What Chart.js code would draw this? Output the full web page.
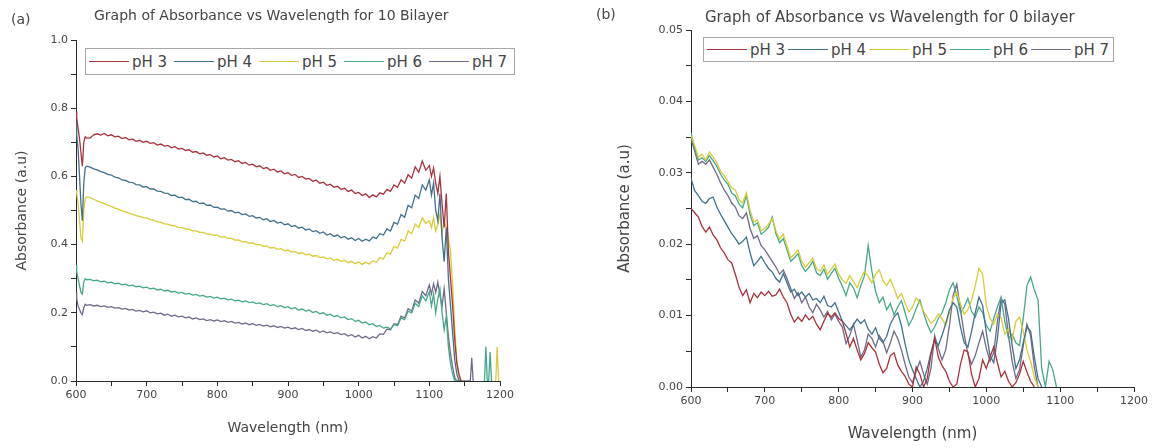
<!DOCTYPE html>
<html>
<head>
<meta charset="utf-8">
<script src="https://cdn.jsdelivr.net/npm/chart.js@4.4.0/dist/chart.umd.min.js"></script>
<style>
  body { margin: 0; background: #fff; font-family: "DejaVu Sans", sans-serif; color: #444; }
  #wrap { position: relative; width: 1160px; height: 448px; overflow: hidden; }
  canvas { position: absolute; top: 0; }
  .txt { position: absolute; white-space: nowrap; z-index: 2; color: #444; }
  .legend { position: absolute; z-index: 2; box-sizing: border-box; border: 1px solid #a8a8a8; background: #fff;
            display: flex; align-items: center; padding-left: 3px; }
  .legend .item { display: flex; align-items: center; color: #444; }
  .legend .sw { display: inline-block; width: 40px; height: 0; border-top: 1px solid; margin-right: 3px; }
</style>
</head>
<body>
<div id="wrap">
  <canvas id="chartA" width="580" height="448" style="left:0"></canvas>
  <canvas id="chartB" width="580" height="448" style="left:580px"></canvas>
  <div class="txt" style="left:11px;top:11px;font-size:14px">(a)</div>
  <div class="txt" style="left:94px;top:7px;font-size:14px">Graph of Absorbance vs Wavelength for 10 Bilayer</div>
  <div class="txt" style="left:596px;top:6px;font-size:14px">(b)</div>
  <div class="txt" style="left:705px;top:8px;font-size:15px">Graph of Absorbance vs Wavelength for 0 bilayer</div>
  <div class="legend" id="legA" style="left:85px;top:48px;width:430px;height:27px"></div>
  <div class="legend" id="legB" style="left:703px;top:37px;width:411px;height:25px"></div>
</div>
<script>
var labels = ["pH 3", "pH 4", "pH 5", "pH 6", "pH 7"];
var colors = ["#a8323c", "#41708c", "#d8cc38", "#45a88a", "#6e6a88"];

// (a) 10 bilayer, wavelength in nm
var wlA = [
  600, 601, 603, 605, 607, 609, 611, 613, 615,
  620, 625, 630, 635, 640, 645, 650, 655, 660, 665,
  670, 675, 680, 685, 690, 695, 700, 705, 710, 715,
  720, 725, 730, 735, 740, 745, 750, 755, 760, 765,
  770, 775, 780, 785, 790, 795, 800, 805, 810, 815,
  820, 825, 830, 835, 840, 845, 850, 855, 860, 865,
  870, 875, 880, 885, 890, 895, 900, 905, 910, 915,
  920, 925, 930, 935, 940, 945, 950, 955, 960, 965,
  970, 975, 980, 985, 990, 995, 1000, 1005, 1010, 1015,
  1020, 1025, 1030, 1035, 1040, 1045, 1050, 1055, 1060, 1065,
  1070, 1075, 1080, 1085, 1090, 1095, 1100,
  1103, 1106, 1109, 1112, 1115, 1118, 1121, 1124, 1127, 1130, 1133, 1136, 1139, 1142, 1145,
  1155, 1158, 1160, 1162, 1178, 1180, 1182, 1184, 1186, 1188, 1194, 1196, 1198
];
var pH3A = [
  .79, .77, .74, .71, .67, .63, .70, .716, .712,
  .712, .722, .725, .721, .726, .719, .722, .716, .718, .711,
  .714, .707, .71, .703, .706, .70, .703, .697, .699, .692,
  .695, .689, .691, .684, .687, .68, .682, .676, .678, .671,
  .673, .666, .669, .662, .664, .657, .66, .652, .655, .648,
  .65, .643, .646, .638, .641, .633, .636, .628, .631, .623,
  .626, .618, .621, .613, .616, .608, .611, .603, .606, .597,
  .60, .592, .594, .586, .589, .58, .583, .574, .577, .568,
  .571, .562, .565, .556, .56, .55, .553, .544, .549, .538,
  .546, .54, .552, .548, .562, .556, .575, .568, .59, .58,
  .605, .595, .628, .612, .645, .618, .632,
  .60, .625, .58, .55, .60, .52, .45, .55, .38, .30, .22, .12, .05, .02, 0,
  null, null, null, null, null, null, null, null, null, null, null, null, null
];
var pH4A = [
  .76, .72, .68, .60, .52, .47, .58, .625, .63,
  .627, .622, .619, .614, .611, .606, .604, .598, .596, .59,
  .588, .583, .582, .576, .575, .569, .57, .563, .563, .557,
  .556, .551, .55, .544, .545, .538, .539, .532, .533, .526,
  .527, .52, .522, .515, .516, .509, .51, .504, .505, .498,
  .5, .493, .495, .488, .49, .483, .485, .478, .48, .473,
  .476, .468, .471, .463, .466, .458, .461, .453, .456, .448,
  .451, .443, .446, .438, .441, .433, .437, .428, .432, .424,
  .428, .42, .424, .416, .42, .412, .418, .41, .416, .411,
  .422, .418, .432, .428, .446, .44, .465, .46, .488, .48,
  .515, .508, .545, .535, .575, .56, .59,
  .545, .58, .50, .47, .55, .42, .35, .45, .30, .22, .14, .06, .02, 0, 0,
  null, null, null, null, null, null, null, null, null, null, null, null, null
];
var pH5A = [
  .56, .55, .52, .47, .42, .41, .50, .535, .54,
  .538, .533, .528, .524, .52, .516, .512, .507, .504, .499,
  .496, .492, .489, .485, .483, .479, .478, .473, .472, .467,
  .466, .461, .46, .456, .455, .45, .45, .446, .445, .44,
  .44, .436, .436, .431, .431, .427, .428, .422, .423, .418,
  .418, .413, .414, .408, .409, .404, .405, .40, .40, .395,
  .396, .39, .392, .386, .388, .382, .384, .378, .38, .374,
  .376, .37, .372, .366, .368, .362, .364, .358, .361, .354,
  .357, .351, .354, .347, .351, .344, .349, .342, .348, .343,
  .352, .348, .362, .358, .376, .372, .395, .39, .415, .41,
  .44, .432, .46, .45, .478, .462, .47,
  .45, .48, .44, .46, .49, .43, .47, .45, .42, .38, .28, .15, .06, .01, 0,
  null, null, null, null, null, null, null, null, null, null, 0, .1, 0
];
var pH6A = [
  .34, .32, .30, .28, .26, .255, .29, .30, .297,
  .298, .294, .296, .291, .293, .288, .29, .285, .287, .282,
  .284, .279, .281, .276, .278, .273, .275, .27, .272, .267,
  .269, .264, .266, .261, .263, .258, .26, .255, .257, .252,
  .254, .249, .251, .246, .248, .243, .246, .241, .243, .238,
  .24, .235, .237, .232, .235, .23, .232, .227, .229, .224,
  .227, .221, .224, .218, .221, .215, .218, .212, .215, .208,
  .211, .205, .208, .201, .204, .197, .2, .193, .196, .189,
  .192, .185, .188, .18, .183, .175, .178, .17, .173, .165,
  .168, .16, .163, .155, .158, .153, .165, .162, .185, .18,
  .205, .20, .228, .218, .25, .235, .262,
  .22, .255, .20, .24, .27, .20, .15, .19, .10, .05, .02, 0, 0, 0, 0,
  null, null, null, null, 0, .1, 0, 0, .085, 0, null, null, null
];
var pH7A = [
  .26, .24, .22, .21, .20, .195, .215, .225, .222,
  .224, .22, .222, .218, .22, .216, .218, .214, .215, .211,
  .213, .208, .21, .205, .207, .203, .206, .20, .202, .197,
  .199, .193, .196, .19, .193, .188, .19, .185, .188, .182,
  .185, .18, .182, .177, .18, .176, .179, .174, .177, .172,
  .175, .17, .172, .167, .17, .165, .168, .163, .166, .161,
  .164, .159, .162, .157, .16, .155, .158, .153, .156, .151,
  .154, .148, .151, .146, .149, .143, .147, .141, .144, .139,
  .142, .136, .139, .132, .136, .129, .134, .126, .131, .124,
  .13, .126, .138, .137, .152, .15, .168, .165, .19, .185,
  .212, .205, .238, .228, .262, .25, .282,
  .255, .285, .26, .29, .25, .22, .27, .20, .13, .08, .04, .01, 0, 0, 0,
  0, 0, .068, 0, null, null, null, null, null, null, null, null, null
];

// (b) 0 bilayer
var wlB = [
  600, 605, 610, 615, 620, 625, 630, 635, 640, 645,
  650, 655, 660, 665, 670, 675, 680, 685, 690, 695,
  700, 705, 710, 715, 720, 725, 730, 735, 740, 745,
  750, 755, 760, 765, 770, 775, 780, 785, 790, 795,
  800, 805, 810, 815, 820, 825, 830, 835, 840, 845,
  850, 855, 860, 865, 870, 875, 880, 885, 890, 895,
  900, 905, 910, 915, 920, 925, 930, 935, 940, 945,
  950, 955, 960, 965, 970, 975, 980, 985, 990, 995,
  1000, 1005, 1010, 1015, 1020, 1025, 1030, 1035, 1040, 1045,
  1050, 1055, 1060, 1065, 1070, 1075, 1080, 1085, 1090, 1095,
  1100
];
var pH3B = [
  .025, .0244, .0238, .0225, .0217, .0224, .0213, .0206, .0195, .0188,
  .0178, .0174, .0158, .014, .0128, .0136, .0118, .0131, .0125, .0133,
  .0128, .0134, .0127, .0129, .0137, .0126, .0118, .0102, .0091, .0098,
  .0092, .0101, .0094, .0099, .0088, .008, .0092, .0103, .0098, .0104,
  .0096, .0092, .0075, .0056, .0068, .0052, .0038, .0047, .0062, .0055,
  .0049, .0032, .002, .0026, .0044, .0048, .0031, .0022, .0015, .0004,
  0, .0028, .0018, 0, .0012, .0046, .0068, .0042, .003, .0022,
  .0008, 0, .0004, .0032, .0052, .0049, .0018, 0, .0012, .0038,
  .0026, .0042, .0056, .0034, .0014, .0022, .0008, 0, .0006, .0018,
  .0036, .0021, .0008, 0, null, null, null, null, null, null,
  null
];
var pH4B = [
  .0292, .0275, .0268, .026, .0257, .0264, .0266, .0252, .0242, .0233,
  .0224, .0215, .0208, .02, .0204, .021, .0188, .017, .0176, .0183,
  .0174, .0166, .0161, .0152, .0147, .0159, .0146, .0133, .0137, .0128,
  .0133, .0126, .0131, .0122, .0124, .0118, .0127, .0114, .0112, .0118,
  .0105, .0092, .0086, .008, .0087, .0095, .0089, .0094, .0081, .0074,
  .0083, .0068, .0062, .0071, .0088, .0098, .0104, .0086, .006, .0038,
  .0024, .0012, 0, .0008, .0026, .0048, .0066, .0058, .0072, .0089,
  .0108, .0118, .0112, .0084, .0062, .0056, .0078, .0104, .0126, .0114,
  .0076, .0044, .0034, .0068, .0118, .0122, .0096, .0058, .0026, .0038,
  .0062, .0084, .0078, .0042, .0012, 0, null, null, null, null,
  null
];
var pH5B = [
  .0352, .0338, .0322, .0326, .0318, .0329, .0322, .0314, .0302, .0296,
  .0288, .0279, .0276, .0262, .0258, .0272, .0248, .0231, .0234, .0219,
  .0222, .0228, .0236, .0219, .0207, .0214, .0198, .0181, .0186, .0192,
  .0176, .0168, .0174, .0181, .0166, .0162, .0171, .0158, .0165, .0172,
  .0158, .015, .0145, .0156, .0148, .0139, .0152, .0162, .0155, .0146,
  .0158, .0164, .0149, .0142, .0151, .0138, .0124, .0131, .0118, .0105,
  .0112, .0125, .0118, .0106, .0098, .0089, .0094, .0102, .0096, .0086,
  .0104, .0125, .0132, .0116, .0102, .0108, .0121, .0142, .0166, .0158,
  .0114, .0096, .0088, .0102, .0097, .0074, .0082, .0066, .0092, .0098,
  .0078, .0052, .0036, .0014, 0, null, null, null, null, null,
  null
];
var pH6B = [
  .0356, .0334, .0318, .0321, .0316, .0324, .0317, .0309, .0298, .029,
  .0284, .0272, .0268, .0256, .0251, .0268, .0242, .0226, .023, .0214,
  .0218, .0224, .0238, .0215, .0202, .0208, .0192, .0176, .0181, .0187,
  .017, .0162, .0168, .0176, .016, .0156, .0165, .0151, .0159, .0166,
  .0152, .0141, .0128, .0146, .0139, .0125, .0142, .0156, .0198, .0162,
  .0134, .0118, .0126, .0108, .0117, .0101, .0112, .0121, .0104, .0086,
  .0096, .011, .0122, .0104, .0088, .0076, .0084, .0096, .0104, .0118,
  .0136, .0146, .0128, .0104, .0112, .0124, .0106, .0098, .0112, .0104,
  .0086, .0078, .0096, .0112, .0126, .0092, .0068, .0074, .0062, .0058,
  .0096, .0142, .0154, .0136, .0122, .0026, 0, .0036, .0024, 0,
  null
];
var pH7B = [
  .0348, .033, .0312, .0316, .0312, .0318, .0308, .0298, .0286, .0276,
  .0268, .0258, .0252, .024, .0236, .0244, .0222, .0208, .0212, .0198,
  .0192, .0184, .0176, .0168, .0158, .0164, .0152, .0138, .0124, .0132,
  .0118, .0126, .0112, .0104, .0116, .0108, .0098, .0106, .0094, .0102,
  .0092, .0084, .0061, .0072, .0088, .0066, .0042, .0052, .0074, .0068,
  .0056, .0072, .0064, .0048, .0062, .0078, .0068, .0052, .0032, .0014,
  .0006, .0022, .0036, .0018, .0004, .0026, .0072, .0054, .0038, .0052,
  .0086, .0128, .0144, .0108, .0074, .0046, .0032, .0044, .0062, .0078,
  .0054, .0036, .0048, .0092, .0124, .0116, .0072, .0036, .0012, .0024,
  .0058, .0088, .0072, .0028, 0, null, null, null, null, null,
  null
];

var textColor = "#444";
var axisColor = "#2a2a2a";

function toPoints(xs, ys) {
  var pts = [];
  for (var i = 0; i < xs.length; i++) {
    pts.push({x: xs[i], y: ys[i]});
  }
  return pts;
}

function makeDatasets(xs, series) {
  var sets = [];
  for (var i = 0; i < series.length; i++) {
    sets.push({
      label: labels[i],
      data: toPoints(xs, series[i]),
      borderColor: colors[i],
      borderWidth: 1.3,
      pointRadius: 0,
      tension: 0,
      spanGaps: false
    });
  }
  return sets;
}

function buildLegend(id, itemWidth, fontSize) {
  var el = document.getElementById(id);
  for (var i = 0; i < labels.length; i++) {
    var item = document.createElement("div");
    item.className = "item";
    item.style.width = itemWidth + "px";
    var sw = document.createElement("span");
    sw.className = "sw";
    sw.style.borderTopColor = colors[i];
    var t = document.createElement("span");
    t.textContent = labels[i];
    t.style.fontSize = fontSize + "px";
    t.style.color = textColor;
    item.appendChild(sw);
    item.appendChild(t);
    el.appendChild(item);
  }
}

function makeChart(id, xs, series, opts) {
  var ctx = document.getElementById(id).getContext("2d");
  return new Chart(ctx, {
    type: "line",
    data: {datasets: makeDatasets(xs, series)},
    options: {
      responsive: false,
      animation: false,
      devicePixelRatio: 1,
      layout: {padding: opts.padding},
      plugins: {legend: {display: false}, tooltip: {enabled: false}},
      scales: {
        x: {
          type: "linear",
          min: 600, max: 1200,
          border: {display: true, color: axisColor, width: 1},
          grid: {drawOnChartArea: false, tickLength: 5, color: axisColor},
          ticks: {
            stepSize: 50,
            autoSkip: false,
            maxRotation: 0,
            padding: 3,
            color: textColor,
            font: {family: "DejaVu Sans", size: 11},
            callback: function(v) { return v % 100 === 0 ? String(v) : ""; }
          },
          title: {display: true, text: "Wavelength (nm)", color: textColor,
                  font: {family: "DejaVu Sans", size: opts.titleSize}, padding: {top: 2, bottom: 0}},
          afterFit: function(scale) { scale.height = opts.xHeight; }
        },
        y: {
          type: "linear",
          min: 0, max: opts.yMax,
          border: {display: true, color: axisColor, width: 1},
          grid: {drawOnChartArea: false, tickLength: 5, color: axisColor},
          ticks: {
            stepSize: opts.yStep,
            autoSkip: false,
            padding: 3,
            color: textColor,
            font: {family: "DejaVu Sans", size: 11},
            callback: opts.yLabel
          },
          title: {display: true, text: "Absorbance (a.u)", color: textColor,
                  font: {family: "DejaVu Sans", size: opts.titleSize}, padding: {top: 0, bottom: 0}},
          afterFit: function(scale) { scale.width = opts.yWidth; }
        }
      }
    }
  });
}

buildLegend("legA", 85, 15);
buildLegend("legB", 81, 15);

makeChart("chartA", wlA, [pH3A, pH4A, pH5A, pH6A, pH7A], {
  padding: {left: 14, top: 40, right: 80, bottom: 11},
  xHeight: 56, yWidth: 62, yMax: 1.0, yStep: 0.1, titleSize: 14,
  yLabel: function(v) { return Math.round(v * 10) % 2 === 0 ? v.toFixed(1) : ""; }
});

makeChart("chartB", wlB, [pH3B, pH4B, pH5B, pH6B, pH7B], {
  padding: {left: 36, top: 30, right: 26, bottom: 5},
  xHeight: 56, yWidth: 75, yMax: 0.05, yStep: 0.005, titleSize: 15,
  yLabel: function(v) { return Math.round(v * 1000) % 10 === 0 ? v.toFixed(2) : ""; }
});
</script>
</body>
</html>
